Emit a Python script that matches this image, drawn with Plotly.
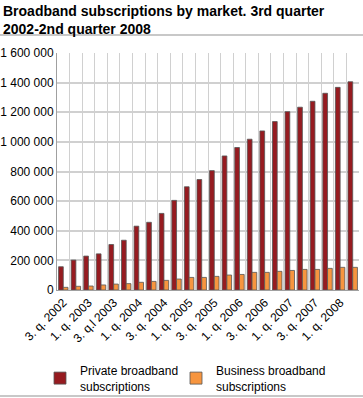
import plotly.graph_objects as go

quarters = ["3. q. 2002", "4. q. 2002", "1. q. 2003", "2. q. 2003", "3. q.l 2003", "4. q. 2003",
            "1. q. 2004", "2. q. 2004", "3. q. 2004", "4. q. 2004", "1. q. 2005", "2. q. 2005",
            "3. q. 2005", "4. q. 2005", "1. q. 2006", "2. q. 2006", "3. q. 2006", "4. q. 2006",
            "1. q. 2007", "2. q. 2007", "3. q. 2007", "4. q. 2007", "1. q. 2008", "2. q. 2008"]
private = [157000, 202000, 229000, 244000, 307000, 336000, 431000, 457000, 517000, 605000,
           697000, 746000, 806000, 905000, 962000, 1018000, 1074000, 1137000, 1204000, 1234000,
           1274000, 1328000, 1368000, 1406000]
business = [18000, 25000, 27000, 34000, 40000, 43000, 52000, 58000, 65000, 74000, 85000, 85000,
            92000, 101000, 105000, 119000, 119000, 126000, 132000, 139000, 139000, 146000,
            153000, 153000]
y_ticks = [0, 200000, 400000, 600000, 800000, 1000000, 1200000, 1400000, 1600000]

idx = list(range(len(quarters)))
shown = idx[::2]

fig = go.Figure()
fig.add_trace(go.Bar(x=idx, y=private, name="Private broadband<br>subscriptions", legend="legend",
                     marker=dict(color="#961b20", line=dict(color="#555555", width=0.8))))
fig.add_trace(go.Bar(x=idx, y=business, name="Business broadband<br>subscriptions", legend="legend2",
                     marker=dict(color="#f7953f", line=dict(color="#555555", width=0.8))))

font = "Liberation Sans, Arial, sans-serif"
W, H = 363, 398
L, R, T, B = 57, 4, 53, 108
PW, PH = W - L - R, H - T - B
leg_common = dict(orientation="h", xanchor="left", yref="container", y=1 - 356 / H,
                  yanchor="top", xref="container", bgcolor="rgba(0,0,0,0)", font=dict(size=12))
fig.update_layout(
    width=W, height=H,
    margin=dict(l=L, r=R, t=T, b=B, autoexpand=False),
    paper_bgcolor="white", plot_bgcolor="white",
    separators=", ",
    barmode="group", bargap=0.25, bargroupgap=0,
    font=dict(family=font, size=12, color="#000000"),
    showlegend=True,
    legend=dict(x=40 / W, **leg_common),
    legend2=dict(x=176 / W, **leg_common),
    annotations=[dict(text="<b>Broadband subscriptions by market. 3rd quarter<br>2002-2nd quarter 2008</b>",
                      xref="paper", yref="paper", x=-(L - 1) / PW, y=1 + (T - 1) / PH,
                      xanchor="left", yanchor="top", align="left", showarrow=False,
                      font=dict(size=14, family=font))],
    shapes=[
        dict(type="line", xref="paper", yref="paper", x0=-L / PW, x1=1 + R / PW,
             y0=1 + (T - 35) / PH, y1=1 + (T - 35) / PH, line=dict(color="#c8c8c8", width=2)),
        dict(type="line", xref="paper", yref="paper", x0=-L / PW, x1=1 + R / PW,
             y0=-(396 - (H - B)) / PH, y1=-(396 - (H - B)) / PH, line=dict(color="#c8c8c8", width=2)),
    ],
)
fig.update_xaxes(range=[-0.5, len(quarters) - 0.5], tickmode="array", tickvals=shown,
                 ticktext=[quarters[i] for i in shown], tickangle=-45, showgrid=False,
                 ticks="", showline=True, linecolor="#a0a0a0",
                 minor=dict(tick0=-0.5, dtick=1, showgrid=True, gridcolor="#d0d0d0", gridwidth=1),
                 tickfont=dict(size=12))
fig.update_yaxes(range=[0, 1600000], tickmode="array", tickvals=y_ticks, tickformat=",d",
                 showgrid=True, gridcolor="#d0d0d0", gridwidth=1.5, zeroline=False,
                 showline=True, linecolor="#a0a0a0", ticks="", tickfont=dict(size=12))

fig.write_html("out.html", config={"displayModeBar": False},
               post_script="document.body.style.margin='0';")
